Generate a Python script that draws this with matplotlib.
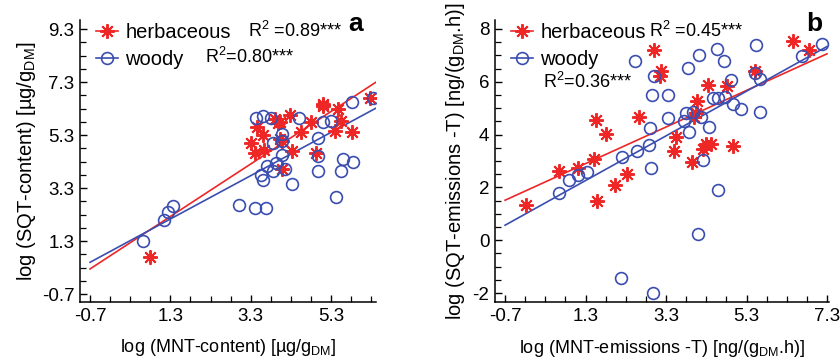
import matplotlib
matplotlib.use("Agg")
import matplotlib.pyplot as plt
import numpy as np

plt.rcParams['font.family'] = ['Liberation Sans', 'DejaVu Sans']
plt.rcParams['mathtext.fontset'] = 'custom'
plt.rcParams['mathtext.rm'] = 'Liberation Sans'
plt.rcParams['mathtext.it'] = 'Liberation Sans:italic'

RED = '#ee2626'
BLUE = '#3a4db0'

# ---------------- Panel a data ----------------
a_herb_x = [0.79, 3.32, 3.41, 3.45, 3.61, 3.63, 3.90, 3.99, 4.03, 4.03, 4.09, 4.07,
            4.28, 4.33, 4.56, 4.81, 4.92, 5.09, 5.10, 5.39, 5.47, 5.56, 5.83, 6.26]
a_herb_y = [0.69, 5.00, 4.61, 5.61, 5.30, 4.74, 5.90, 5.75, 5.80, 5.15, 5.09, 4.03,
            6.05, 4.71, 5.40, 5.80, 4.63, 6.46, 6.38, 5.46, 6.28, 5.84, 5.40, 6.68]
a_wood_x = [0.62, 1.15, 1.23, 1.36, 3.02, 3.41, 3.67, 3.43, 3.61, 3.80, 3.56, 3.61,
            3.70, 3.86, 3.86, 3.92, 4.09, 4.07, 4.09, 4.15, 4.32, 4.50, 4.98, 4.98,
            4.98, 5.09, 5.29, 5.42, 5.56, 5.60, 5.85, 5.83, 6.34]
a_wood_y = [1.30, 2.11, 2.40, 2.61, 2.65, 2.56, 2.56, 5.96, 6.00, 5.96, 3.78, 3.59,
            4.15, 3.93, 5.00, 4.25, 5.34, 5.09, 4.56, 4.00, 3.46, 5.93, 5.18, 4.49,
            3.93, 5.81, 5.84, 2.96, 3.96, 4.40, 4.28, 6.55, 6.71]
a_fit_herb = [0.99, 0.94]    # slope, intercept
a_fit_wood = [0.817, 1.07]
a_fit_range = [-0.7, 6.42]
a_r2 = ['R$^2$ =0.89***', 'R$^2$=0.80***']

# ---------------- Panel b data ----------------
b_herb_x = [-0.19, 0.63, 1.11, 1.51, 1.56, 1.58, 1.81, 2.04, 2.33, 2.64, 2.99, 3.18,
            3.16, 3.49, 3.55, 3.94, 4.00, 4.05, 4.08, 4.22, 4.29, 4.35, 4.42, 4.81,
            4.96, 5.52, 6.45, 6.85]
b_herb_y = [1.35, 2.63, 2.75, 3.08, 4.56, 1.48, 4.03, 2.11, 2.51, 4.68, 7.22, 6.42,
            6.23, 3.39, 3.90, 2.97, 4.68, 4.80, 5.29, 3.44, 3.65, 5.86, 3.65, 5.85,
            3.58, 6.39, 7.53, 7.19]
b_wood_x = [0.64, 0.89, 1.12, 1.33, 2.19, 2.20, 2.58, 2.54, 2.87, 2.89, 2.92, 2.95,
            2.97, 3.01, 3.34, 3.36, 3.74, 3.80, 3.84, 3.86, 3.96, 4.09, 4.13, 4.18,
            4.22, 4.37, 4.46, 4.57, 4.59, 4.59, 4.73, 4.76, 4.91, 4.96, 5.16, 5.50,
            5.54, 5.63, 5.63, 6.68, 7.18]
b_wood_y = [1.77, 2.28, 2.47, 2.60, -1.43, 3.14, 3.39, 6.80, 3.61, 4.24, 2.72, 5.51,
            -1.99, 6.23, 4.62, 5.51, 4.53, 4.81, 6.54, 4.09, 4.84, 0.23, 7.03, 4.66,
            3.04, 4.28, 5.38, 7.24, 5.38, 1.92, 6.80, 5.44, 6.08, 5.16, 4.96, 6.35,
            7.41, 6.11, 4.87, 6.96, 7.44]
b_fit_herb = [0.693, 2.00]
b_fit_wood = [0.846, 1.16]
b_fit_range = [-0.7, 7.3]
b_r2 = ['R$^2$ =0.45***', 'R$^2$=0.36***']

a_xticks = [-0.7, 1.3, 3.3, 5.3]
a_yticks = [-0.7, 1.3, 3.3, 5.3, 7.3, 9.3]
b_xticks = [-0.7, 1.3, 3.3, 5.3, 7.3]
b_yticks = [-2, 0, 2, 4, 6, 8]

STAR = (8, 2, 0)

fig = plt.figure(figsize=(8.4, 3.6), dpi=100)
axa = fig.add_axes([80/840, 58/360, 296/840, 282/360])
axb = fig.add_axes([495/840, 58/360, 334/840, 282/360])


def style(ax, xticks, yticks, xlim, ylim, minor_step):
    ax.set_xlim(*xlim)
    ax.set_ylim(*ylim)
    ax.set_xticks(xticks)
    ax.set_yticks(yticks)
    ax.set_xticks(np.arange(xticks[0], xlim[1] + 1e-6, minor_step), minor=True)
    ax.set_yticks(np.arange(yticks[0], ylim[1] + 1e-6, minor_step), minor=True)
    ax.set_xticklabels([('%g' % t) for t in xticks])
    ax.set_yticklabels([('%g' % t) for t in yticks])
    for s in ['top', 'right']:
        ax.spines[s].set_visible(False)
    for s in ['left', 'bottom']:
        ax.spines[s].set_linewidth(1.1)
    ax.tick_params(which='major', direction='in', length=5, width=1.0, labelsize=13.5, pad=4)
    ax.tick_params(which='minor', direction='in', length=4, width=0.9)


def draw(ax, hx, hy, wx, wy, fh, fw, rng):
    ax.plot(hx, hy, linestyle='none', marker=STAR, markersize=10.5, markeredgewidth=1.4,
            color=RED, markeredgecolor=RED, zorder=3)
    ax.plot(wx, wy, linestyle='none', marker='o', markersize=8.5, markeredgewidth=1.2,
            markerfacecolor='none', markeredgecolor=BLUE, zorder=3)
    xx = np.array(rng)
    ax.plot(xx, fh[0] * xx + fh[1], color=RED, lw=1.2, zorder=2)
    ax.plot(xx, fw[0] * xx + fw[1], color=BLUE, lw=1.2, zorder=2)
    h1, = ax.plot([], [], color=RED, lw=1.2, marker=STAR, markersize=10.5, markeredgewidth=1.4)
    h2, = ax.plot([], [], color=BLUE, lw=1.2, marker='o', markersize=8.5,
                  markerfacecolor='none', markeredgewidth=1.2)
    return h1, h2


def legend(ax, h1, h2, x):
    ax.legend([h1, h2], ['herbaceous', 'woody'], loc='upper left', bbox_to_anchor=(x, 0.99),
              frameon=False, fontsize=14.5, handlelength=1.1, handletextpad=0.35,
              labelspacing=0.4, borderaxespad=0, borderpad=0)


# Panel a
style(axa, a_xticks, a_yticks, (-0.95, 6.42), (-1.0, 9.64), 0.5)
h1, h2 = draw(axa, a_herb_x, a_herb_y, a_wood_x, a_wood_y, a_fit_herb, a_fit_wood, a_fit_range)
legend(axa, h1, h2, 0.055)
axa.text(0.568, 0.962, a_r2[0], transform=axa.transAxes, fontsize=13, va='center', ha='left')
axa.text(0.422, 0.868, a_r2[1], transform=axa.transAxes, fontsize=13, va='center', ha='left')
axa.text(0.955, 0.985, 'a', transform=axa.transAxes, fontsize=19, fontweight='bold',
         va='center', ha='right')
axa.set_xlabel('log (MNT-content) [µg/g$_{\\rm DM}$]', fontsize=13, labelpad=9)
axa.set_ylabel('log (SQT-content) [µg/g$_{\\rm DM}$]', fontsize=14.5, labelpad=3)

# Panel b
style(axb, b_xticks, b_yticks, (-0.95, 7.35), (-2.34, 8.34), 0.5)
h1, h2 = draw(axb, b_herb_x, b_herb_y, b_wood_x, b_wood_y, b_fit_herb, b_fit_wood, b_fit_range)
legend(axb, h1, h2, 0.048)
axb.text(0.462, 0.962, b_r2[0], transform=axb.transAxes, fontsize=13, va='center', ha='left')
axb.text(0.144, 0.78, b_r2[1], transform=axb.transAxes, fontsize=13, va='center', ha='left')
axb.text(0.98, 0.985, 'b', transform=axb.transAxes, fontsize=19, fontweight='bold',
         va='center', ha='right')
axb.set_xlabel('log (MNT-emissions -T) [ng/(g$_{\\rm DM}$.h)]', fontsize=13, labelpad=10)
axb.set_ylabel('log (SQT-emissions -T) [ng/(g$_{\\rm DM}$.h)]', fontsize=14.5, labelpad=4)

fig.savefig('out.png', dpi=100)
